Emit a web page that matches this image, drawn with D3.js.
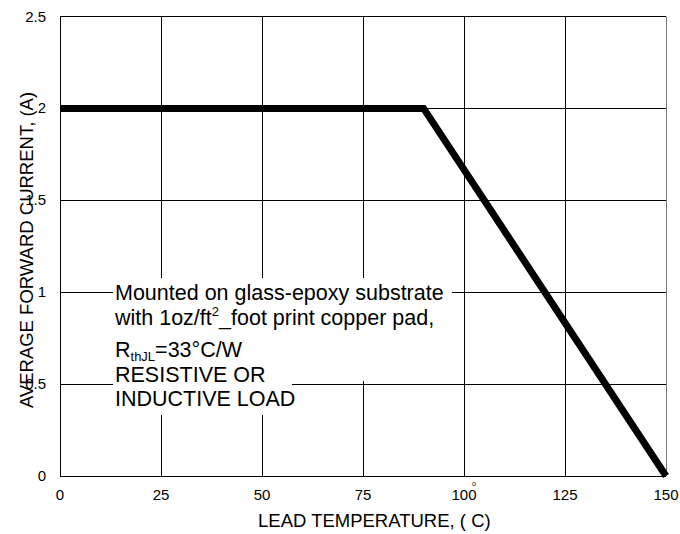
<!DOCTYPE html>
<html>
<head>
<meta charset="utf-8">
<script src="https://cdn.jsdelivr.net/npm/d3@7"></script>
<style>
  body { margin: 0; background: #fff; }
  text { font-family: Arial, "Liberation Sans", sans-serif; fill: #000; }
</style>
</head>
<body>
<svg></svg>
<script>
// derating curve
const temps = [0, 90, 150];
const current = [2, 2, 0];
const xTicks = [0, 25, 50, 75, 100, 125, 150];
const yTicks = [0, 0.5, 1, 1.5, 2, 2.5];
const yTickLabels = ["0", "0.5", "1", "1.5", "2", "2.5"];

const w = 680;
const h = 534;
const plotLeft = 60, plotRight = 666, plotTop = 16.5, plotBottom = 476;

const svg = d3.select("svg")
              .attr("width", w)
              .attr("height", h);

const xScale = d3.scaleLinear().domain([0, 150]).range([plotLeft, plotRight]);
const yScale = d3.scaleLinear().domain([0, 2.5]).range([plotBottom, plotTop]);

// grid
const g = svg.append("g");
g.selectAll(".vgrid")
 .data(xTicks.slice(1, -1))
 .enter().append("line")
 .attr("x1", d => Math.round(xScale(d)) + 0.5)
 .attr("x2", d => Math.round(xScale(d)) + 0.5)
 .attr("y1", plotTop).attr("y2", plotBottom)
 .attr("stroke", "#000").attr("stroke-width", 1);

g.selectAll(".hgrid")
 .data(yTicks.slice(1, -1))
 .enter().append("line")
 .attr("x1", plotLeft).attr("x2", plotRight)
 .attr("y1", d => Math.round(yScale(d)) + 0.5)
 .attr("y2", d => Math.round(yScale(d)) + 0.5)
 .attr("stroke", "#000").attr("stroke-width", 1);

// frame
g.append("line").attr("x1", plotLeft + 0.5).attr("x2", plotLeft + 0.5).attr("y1", plotTop).attr("y2", plotBottom + 0.5).attr("stroke", "#000");
g.append("line").attr("x1", plotLeft).attr("x2", plotRight).attr("y1", plotBottom + 0.5).attr("y2", plotBottom + 0.5).attr("stroke", "#000");
g.append("line").attr("x1", plotLeft).attr("x2", plotRight).attr("y1", plotTop).attr("y2", plotTop).attr("stroke", "#000");
g.append("line").attr("x1", plotRight + 0.5).attr("x2", plotRight + 0.5).attr("y1", plotTop).attr("y2", plotBottom).attr("stroke", "#777");

// white backing behind the note
g.append("rect").attr("x", 113).attr("y", 278).attr("width", 339).attr("height", 103).attr("fill", "#fff");
g.append("rect").attr("x", 113).attr("y", 278).attr("width", 179).attr("height", 137).attr("fill", "#fff");

// curve
const line = d3.line()
               .x(d => xScale(d[0]))
               .y(d => yScale(d[1]));
g.append("path")
 .datum(d3.zip(temps, current))
 .attr("fill", "none")
 .attr("stroke", "#000")
 .attr("stroke-width", 7)
 .attr("stroke-linejoin", "miter")
 .attr("d", line);

// tick labels
svg.selectAll(".xlab")
   .data(xTicks)
   .enter().append("text")
   .attr("x", d => xScale(d))
   .attr("y", 500)
   .attr("text-anchor", "middle")
   .attr("font-size", 15)
   .text(d => d);

svg.selectAll(".ylab")
   .data(yTicks)
   .enter().append("text")
   .attr("x", 46)
   .attr("y", d => yScale(d) + 5)
   .attr("text-anchor", "end")
   .attr("font-size", 15)
   .text((d, i) => yTickLabels[i]);

// axis titles
svg.append("text")
   .attr("x", 258)
   .attr("y", 527)
   .attr("font-size", 18.5)
   .text("LEAD TEMPERATURE, ( C)");
svg.append("text")
   .attr("x", 472)
   .attr("y", 486)
   .attr("font-size", 7)
   .attr("fill", "#555")
   .text("o");

svg.append("text")
   .attr("transform", "translate(33,250) rotate(-90)")
   .attr("text-anchor", "middle")
   .attr("font-size", 18.5)
   .text("AVERAGE FORWARD CURRENT, (A)");

// note
const note = svg.append("g").attr("font-size", 21.5);
note.append("text").attr("x", 115).attr("y", 300).text("Mounted on glass-epoxy substrate");
const l2 = note.append("text").attr("x", 115).attr("y", 325);
l2.append("tspan").text("with 1oz/ft");
l2.append("tspan").attr("dy", -9).attr("font-size", 13).text("2");
l2.append("tspan").attr("dy", 9).text("_foot print copper pad,");
const l3 = note.append("text").attr("x", 115).attr("y", 357);
l3.append("tspan").text("R");
l3.append("tspan").attr("dy", 4).attr("font-size", 13).text("thJL");
l3.append("tspan").attr("dy", -4).text("=33°C/W");
note.append("text").attr("x", 115).attr("y", 382).text("RESISTIVE OR");
note.append("text").attr("x", 115).attr("y", 406).text("INDUCTIVE LOAD");
</script>
</body>
</html>
